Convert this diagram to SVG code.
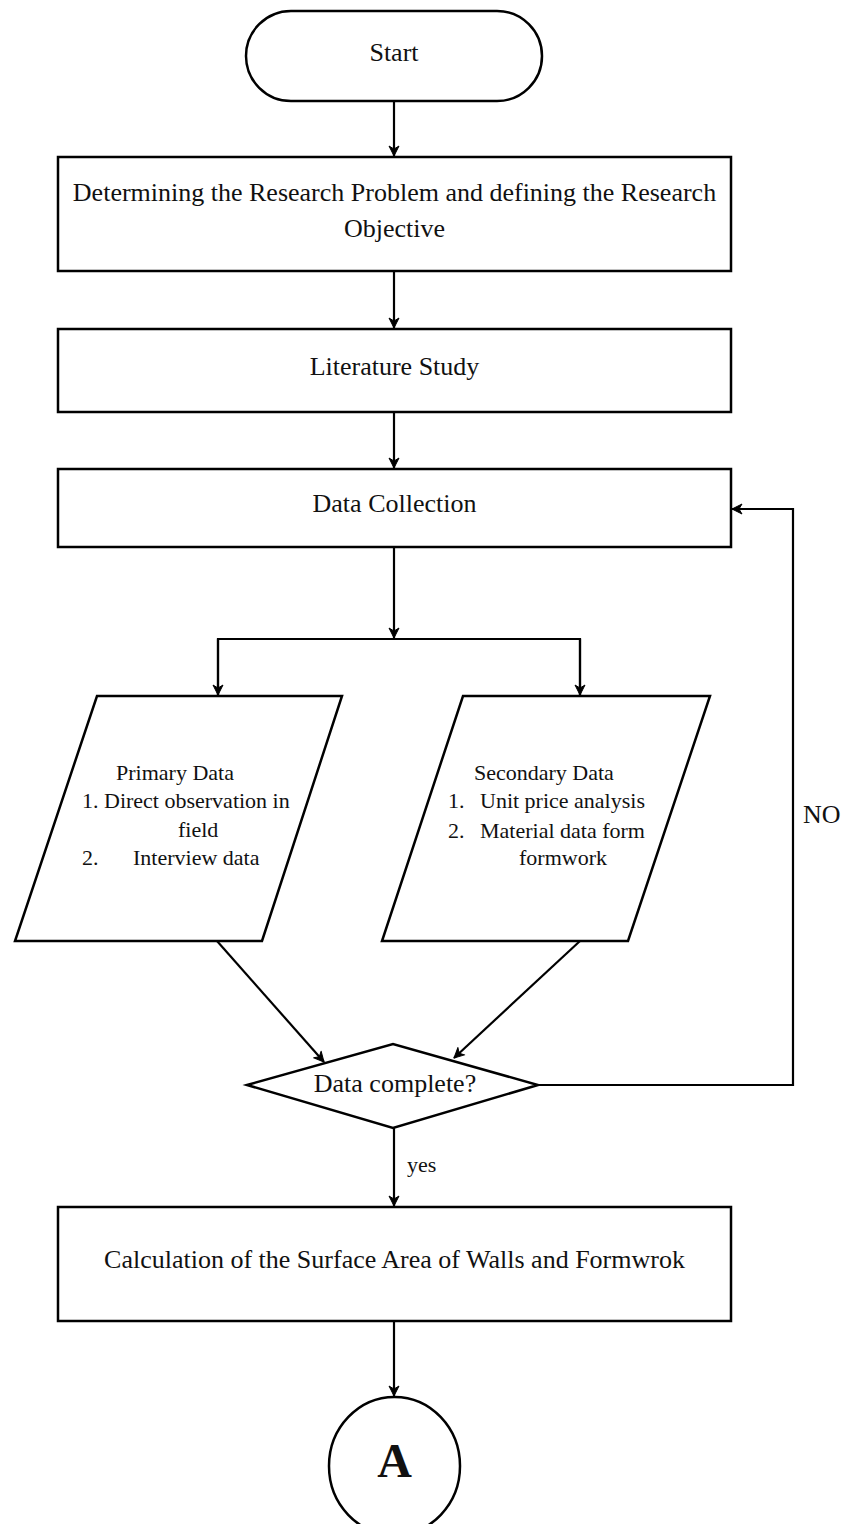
<svg xmlns="http://www.w3.org/2000/svg" width="847" height="1524" viewBox="0 0 847 1524">
<style>
.shape{fill:#fff;stroke:#000;stroke-width:2.5}
.conn{fill:none;stroke:#000;stroke-width:2.2}
.t{font-family:"Liberation Serif","Times New Roman",serif;font-size:26px;fill:#111}
.s{font-family:"Liberation Serif","Times New Roman",serif;font-size:22px;fill:#111}
.c{text-anchor:middle}
</style>
<defs>
<marker id="arr" markerUnits="userSpaceOnUse" markerWidth="14" markerHeight="14" refX="11" refY="6" orient="auto" viewBox="0 0 14 12">
<path d="M1,1 L11,6 L1,11 L4,6 z" fill="#000" stroke="#000" stroke-width="1" stroke-linejoin="round"/>
</marker>
</defs>
<rect width="847" height="1524" fill="#fff"/>
<g id="connectors">
<line class="conn" x1="394" y1="101" x2="394" y2="156" marker-end="url(#arr)"/>
<line class="conn" x1="394" y1="271" x2="394" y2="328" marker-end="url(#arr)"/>
<line class="conn" x1="394" y1="412" x2="394" y2="468" marker-end="url(#arr)"/>
<line class="conn" x1="394" y1="547" x2="394" y2="638" marker-end="url(#arr)"/>
<polyline class="conn" points="218,695 218,639 580,639 580,695"/>
<line class="conn" x1="218" y1="639" x2="218" y2="695" marker-end="url(#arr)"/>
<line class="conn" x1="580" y1="639" x2="580" y2="695" marker-end="url(#arr)"/>
<line class="conn" x1="217" y1="941" x2="324" y2="1062" marker-end="url(#arr)"/>
<line class="conn" x1="580" y1="941" x2="454" y2="1058" marker-end="url(#arr)"/>
<line class="conn" x1="394" y1="1128" x2="394" y2="1206" marker-end="url(#arr)"/>
<line class="conn" x1="394" y1="1321" x2="394" y2="1396" marker-end="url(#arr)"/>
<polyline class="conn" points="538,1085 793,1085 793,509 732,509" marker-end="url(#arr)"/>
<text class="t" x="803" y="823">NO</text>
<text class="s" x="407" y="1172">yes</text>
</g>
<g id="start">
<rect class="shape" x="246" y="11" width="296" height="90" rx="45" ry="45"/>
<text class="t c" x="394" y="61">Start</text>
</g>
<g id="problem">
<rect class="shape" x="58" y="157" width="673" height="114"/>
<text class="t c" x="394.5" y="201">Determining the Research Problem and defining the Research</text>
<text class="t c" x="394.5" y="237">Objective</text>
</g>
<g id="literature">
<rect class="shape" x="58" y="329" width="673" height="83"/>
<text class="t c" x="394.5" y="375">Literature Study</text>
</g>
<g id="collection">
<rect class="shape" x="58" y="469" width="673" height="78"/>
<text class="t c" x="394.5" y="512">Data Collection</text>
</g>
<g id="primary">
<polygon class="shape" points="97,696 342,696 262,941 15,941"/>
<text class="s" x="116" y="780">Primary Data</text>
<text class="s" x="82" y="808">1. Direct observation in</text>
<text class="s" x="178" y="837">field</text>
<text class="s" x="82" y="865">2.</text>
<text class="s" x="133" y="865">Interview data</text>
</g>
<g id="secondary">
<polygon class="shape" points="463,696 710,696 628,941 382,941"/>
<text class="s" x="474" y="780">Secondary Data</text>
<text class="s" x="448" y="808">1.</text>
<text class="s" x="480" y="808">Unit price analysis</text>
<text class="s" x="448" y="838">2.</text>
<text class="s" x="480" y="838">Material data form</text>
<text class="s" x="519" y="865">formwork</text>
</g>
<g id="decision">
<polygon class="shape" points="247,1085 393,1044 538,1085 393,1128"/>
<text class="t c" x="395" y="1092">Data complete?</text>
</g>
<g id="calculation">
<rect class="shape" x="58" y="1207" width="673" height="114"/>
<text class="t c" x="394.5" y="1268">Calculation of the Surface Area of Walls and Formwrok</text>
</g>
<g id="connectorA">
<ellipse class="shape" cx="394.5" cy="1466" rx="65.5" ry="69"/>
<text class="t c" x="394.5" y="1477" style="font-size:48px;font-weight:bold">A</text>
</g>
</svg>
